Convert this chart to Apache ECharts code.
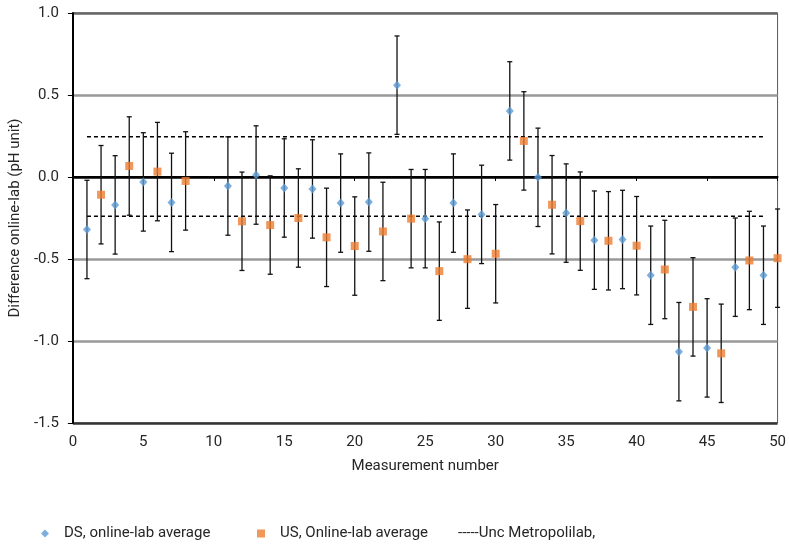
<!DOCTYPE html>
<html>
<head>
<meta charset="utf-8">
<script src="https://cdn.jsdelivr.net/npm/echarts@6/dist/echarts.min.js"></script>
<style>
  html, body { margin: 0; padding: 0; background: #fff; }
  #chart { width: 789px; height: 544px; }
</style>
</head>
<body>
<div id="chart"></div>
<script>
// Downstream (DS) measurements: odd measurement numbers
const dsNumbers = [1, 3, 5, 7, 11, 13, 15, 17, 19, 21, 23, 25, 27, 29, 31, 33, 35, 37, 39, 41, 43, 45, 47, 49];
const dsValues  = [-0.32, -0.17, -0.03, -0.155, -0.055, 0.012, -0.067, -0.073, -0.159, -0.153, 0.56, -0.254,
                   -0.159, -0.228, 0.403, -0.002, -0.22, -0.385, -0.381, -0.599, -1.065, -1.042, -0.55, -0.599];

// Upstream (US) measurements: even measurement numbers
const usNumbers = [2, 4, 6, 8, 12, 14, 16, 18, 20, 22, 24, 26, 28, 30, 32, 34, 36, 38, 40, 42, 44, 46, 48, 50];
const usValues  = [-0.108, 0.067, 0.033, -0.024, -0.27, -0.293, -0.25, -0.368, -0.421, -0.332, -0.254, -0.574,
                   -0.501, -0.468, 0.22, -0.169, -0.269, -0.389, -0.419, -0.564, -0.792, -1.075, -0.509, -0.495];

// Expanded uncertainty of each difference (pH unit)
const errorHalfWidth = 0.3;

// Uncertainty band of the reference laboratory
const uncStart = 1;
const uncEnd = 49;
const uncUpper = 0.245;
const uncLower = -0.24;

const yTicks = [-1.5, -1.0, -0.5, 0.0, 0.5, 1.0];
const xTicks = [0, 5, 10, 15, 20, 25, 30, 35, 40, 45, 50];

const FONT = 'Roboto';
const FS = 15;
const TEXT = '#262626';

const dsPoints = dsNumbers.map((x, i) => [x, dsValues[i]]);
const usPoints = usNumbers.map((x, i) => [x, usValues[i]]);
const errPoints = dsPoints.concat(usPoints).map(p => [p[0], p[1] - errorHalfWidth, p[1] + errorHalfWidth]);

function renderErrorBar(params, api) {
  const x = api.value(0);
  const lo = api.coord([x, api.value(1)]);
  const hi = api.coord([x, api.value(2)]);
  const cap = 2.5;
  const style = { stroke: '#111', lineWidth: 1.3 };
  return {
    type: 'group',
    children: [
      { type: 'line', shape: { x1: lo[0], y1: lo[1], x2: hi[0], y2: hi[1] }, style },
      { type: 'line', shape: { x1: lo[0] - cap, y1: lo[1], x2: lo[0] + cap, y2: lo[1] }, style },
      { type: 'line', shape: { x1: hi[0] - cap, y1: hi[1], x2: hi[0] + cap, y2: hi[1] }, style }
    ]
  };
}

const chart = echarts.init(document.getElementById('chart'), null, { renderer: 'canvas' });

chart.setOption({
  animation: false,
  backgroundColor: '#fff',
  textStyle: { fontFamily: FONT },
  grid: {
    left: 72, right: 10, top: 13, bottom: 121,
    show: true, borderColor: '#595959', borderWidth: 1, backgroundColor: 'transparent'
  },
  legend: [
    {
      left: 36, top: 521, itemWidth: 8, itemHeight: 8, itemGap: 0,
      data: [{ name: 'DS, online-lab average', icon: 'diamond' }],
      textStyle: { fontFamily: FONT, fontSize: FS, color: TEXT, padding: [0, 0, 0, 10] }
    },
    {
      left: 252, top: 521, itemWidth: 8, itemHeight: 8, itemGap: 0,
      data: [{ name: 'US, Online-lab average', icon: 'rect' }],
      textStyle: { fontFamily: FONT, fontSize: FS, color: TEXT, padding: [0, 0, 0, 10] }
    },
    {
      left: 447, top: 521, itemWidth: 1, itemHeight: 8, itemGap: 0,
      data: [{ name: 'Unc Metropolilab,', icon: 'none' }],
      formatter: name => '-----' + name,
      textStyle: { fontFamily: FONT, fontSize: FS, color: TEXT }
    }
  ],
  xAxis: [
    {
      type: 'value', min: 0, max: 50, interval: 5,
      axisLine: { onZero: true, lineStyle: { color: '#000', width: 2 } },
      axisTick: { show: true, inside: false, length: 4, lineStyle: { color: '#000', width: 1 } },
      axisLabel: { show: false },
      splitLine: { show: false }
    },
    {
      type: 'value', min: 0, max: 50, interval: 5, position: 'bottom',
      axisLine: { show: false, onZero: false },
      axisTick: { show: false },
      axisLabel: {
        show: true, margin: 12, fontSize: FS, color: TEXT, fontFamily: FONT,
        customValues: xTicks
      },
      splitLine: { show: false },
      name: 'Measurement number', nameLocation: 'middle', nameGap: 36,
      nameTextStyle: { fontSize: FS, color: TEXT, fontFamily: FONT }
    }
  ],
  yAxis: {
    type: 'value', min: -1.5, max: 1.0, interval: 0.5,
    axisLine: { show: true, onZero: false, lineStyle: { color: '#000', width: 2 } },
    axisTick: { show: true, length: 5, lineStyle: { color: '#000', width: 1 } },
    axisLabel: {
      margin: 14, fontSize: FS, color: TEXT, fontFamily: FONT,
      customValues: yTicks,
      formatter: v => v.toFixed(1)
    },
    splitLine: {
      show: true,
      lineStyle: { width: 2.5, color: ['#333333', '#999999', '#999999', '#000000', '#999999', '#666666'] }
    },
    name: 'Difference online-lab (pH unit)', nameLocation: 'middle', nameGap: 46,
    nameTextStyle: { fontSize: FS, color: TEXT, fontFamily: FONT }
  },
  series: [
    {
      name: 'error bars', type: 'custom', xAxisIndex: 0,
      renderItem: renderErrorBar,
      data: errPoints, z: 3, silent: true,
      encode: { x: 0, y: [1, 2] }
    },
    {
      name: 'Unc Metropolilab,', type: 'line', xAxisIndex: 0,
      data: [[uncStart, uncUpper], [uncEnd, uncUpper]],
      symbol: 'none', color: '#000',
      lineStyle: { color: '#000', width: 1.5, type: [4, 3] }, z: 2
    },
    {
      name: 'Unc Metropolilab,', type: 'line', xAxisIndex: 0,
      data: [[uncStart, uncLower], [uncEnd, uncLower]],
      symbol: 'none', color: '#000',
      lineStyle: { color: '#000', width: 1.5, type: [4, 3] }, z: 2
    },
    {
      name: 'DS, online-lab average', type: 'scatter', xAxisIndex: 0,
      data: dsPoints, symbol: 'diamond', symbolSize: [8, 9],
      itemStyle: { color: '#5B9BD5' }, z: 5
    },
    {
      name: 'US, Online-lab average', type: 'scatter', xAxisIndex: 0,
      data: usPoints, symbol: 'rect', symbolSize: 8,
      itemStyle: { color: '#ED7D31' }, z: 5
    }
  ]
});
</script>
</body>
</html>
